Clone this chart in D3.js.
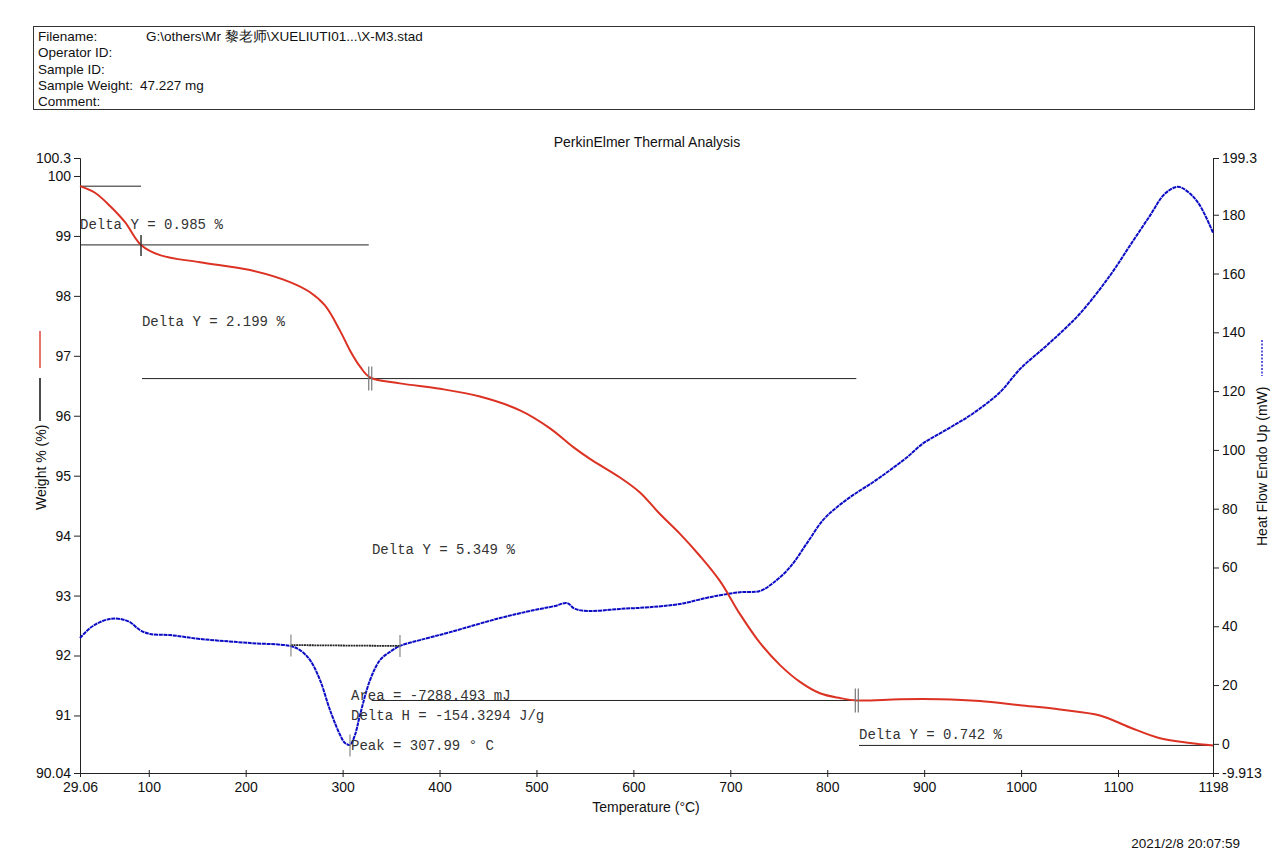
<!DOCTYPE html>
<html>
<head>
<meta charset="utf-8">
<script src="https://cdn.jsdelivr.net/npm/d3@7"></script>
<style>
  body { margin: 0; background: #fff; }
  svg text { font-family: "Liberation Sans", Arial, sans-serif; fill: #111; }
  .note { font-family: "Liberation Mono", "DejaVu Sans Mono", monospace; font-size: 14px; fill: #333; }
</style>
</head>
<body>
<svg id="chart" width="1271" height="851"></svg>
<script>
// header lines
var headerLabels = ['Filename:', 'Operator ID:', 'Sample ID:', 'Sample Weight:', 'Comment:'];
var headerValues = ['G:\\others\\Mr 黎老师\\XUELIUTI01...\\X-M3.stad', '', '', '47.227 mg', ''];

// TGA curve: temperature (°C) / weight %
var tgaTemp = [29.06, 44.5, 60.0, 75.5, 92.0, 111.6, 152.9, 204.5, 245.7, 266.4, 281.8, 297.3, 307.6, 318.0, 328.3,
  359.2, 400.5, 441.7, 483.0, 514.0, 537.7, 555.2, 586.2, 606.8, 627.4, 648.1, 668.7, 689.4, 710.0, 730.6, 751.3,
  771.9, 792.5, 813.2, 830.7, 875.1, 916.3, 957.6, 998.9, 1040.1, 1081.4, 1112.3, 1143.3, 1174.2, 1198];
var tgaWeight = [99.83, 99.72, 99.50, 99.23, 98.85, 98.68, 98.56, 98.43, 98.23, 98.06, 97.84, 97.42, 97.09, 96.82, 96.64,
  96.54, 96.45, 96.32, 96.09, 95.79, 95.48, 95.28, 94.97, 94.72, 94.36, 94.03, 93.66, 93.24, 92.69, 92.21, 91.84,
  91.56, 91.37, 91.29, 91.25, 91.27, 91.27, 91.24, 91.17, 91.10, 91.00, 90.80, 90.62, 90.54, 90.50];

// DSC curve: temperature (°C) / heat flow (mW)
var dscTemp = [29.06, 39.4, 49.7, 60.0, 70.3, 80.6, 91.0, 101.3, 121.9, 152.9, 204.5, 245.7, 256.0, 266.4, 276.7,
  287.0, 297.3, 302.5, 307.6, 312.8, 318.0, 328.3, 338.6, 348.9, 359.2, 379.8, 410.8, 462.4, 493.3, 519.1, 531.5,
  539.8, 555.2, 586.2, 617.1, 648.1, 679.0, 710.0, 730.6, 744.0, 761.6, 779.1, 795.6, 810.0, 826.5, 847.2, 864.7,
  882.3, 898.8, 916.3, 933.9, 950.4, 978.2, 998.9, 1029.8, 1060.8, 1091.7, 1112.3, 1133.0, 1148.5, 1161.9, 1174.2,
  1184.6, 1198];
var dscFlow = [36.0, 39.4, 41.4, 42.5, 42.5, 41.4, 38.7, 37.4, 37.0, 35.7, 34.3, 33.3, 31.9, 28.5, 21.7,
  11.5, 3.1, 0.3, -0.3, 3.1, 9.9, 21.7, 28.5, 31.3, 33.3, 35.3, 38.0, 42.8, 45.2, 46.9, 47.9,
  45.9, 45.2, 45.9, 46.5, 47.6, 49.9, 51.6, 52.0, 54.7, 60.1, 68.3, 76.1, 80.5, 84.6, 89.0, 93.1,
  97.5, 102.2, 105.6, 109.0, 112.4, 119.6, 127.5, 136.5, 146.4, 159.3, 169.5, 179.7, 187.2, 189.5, 187.2,
  183.1, 173.9];

// tick labels
var tempTicks = [29.06, 100, 200, 300, 400, 500, 600, 700, 800, 900, 1000, 1100, 1198];
var weightTicks = [90.04, 91, 92, 93, 94, 95, 96, 97, 98, 99, 100, 100.3];
var flowTicks = [-9.913, 0, 20, 40, 60, 80, 100, 120, 140, 160, 180, 199.3];

// step analysis: [T start, T end, weight level]
var stepLines = [[29.06, 92, 99.83], [29.06, 327, 98.85], [93, 830, 96.62], [330, 830, 91.25], [832.8, 1198, 90.50]];
var stepMarks = [[92, 98.85, 1], [328.5, 96.62, 2], [830.5, 91.25, 2]];
var stepTexts = [['Delta Y = 0.985 %', 29.06, 99.11], ['Delta Y = 2.199 %', 93, 97.49],
  ['Delta Y = 5.349 %', 330.3, 93.69], ['Delta Y = 0.742 %', 832.8, 90.61]];

// peak analysis (heat flow)
var peakBase = [[246.7, 33.6], [359.2, 33.3]];
var peakMarks = [[246.7, 33.5], [359.2, 33.3], [307.6, -0.6]];
var peakTexts = [['Area = -7288.493 mJ', 308.7, 14.9], ['Delta H = -154.3294 J/g', 308.7, 8.2], ['Peak = 307.99 ° C', 308.7, -2.0]];

var svg = d3.select('#chart');

var x = d3.scaleLinear().domain([29.06, 1198]).range([80, 1213]);
var yW = d3.scaleLinear().domain([90.04, 100.3]).range([773, 158]);
var yF = d3.scaleLinear().domain([-9.913, 199.3]).range([773, 158]);

// header box
svg.append('rect').attr('x', 33.5).attr('y', 26.5).attr('width', 1221).attr('height', 83)
  .attr('fill', 'none').attr('stroke', '#333');
headerLabels.forEach(function(d, i) {
  svg.append('text').attr('x', 38).attr('y', 41 + i * 16.3).style('font-size', '13.5px').text(d);
  svg.append('text').attr('x', i == 3 ? 140 : 146).attr('y', 41 + i * 16.3).style('font-size', '13.5px').text(headerValues[i]);
});

svg.append('text').attr('x', 647).attr('y', 147).attr('text-anchor', 'middle')
  .style('font-size', '14px').text('PerkinElmer Thermal Analysis');

// axes
var ax = svg.append('g').attr('transform', 'translate(0,773)')
  .call(d3.axisBottom(x).tickValues(tempTicks).tickFormat(function(d) { return String(d); }).tickSize(4).tickPadding(5));
ax.selectAll('.tick line').attr('y1', -3);
var ayl = svg.append('g').attr('transform', 'translate(80,0)')
  .call(d3.axisLeft(yW).tickValues(weightTicks).tickFormat(function(d) { return String(d); }).tickSize(6).tickPadding(3));
var ayr = svg.append('g').attr('transform', 'translate(1213,0)')
  .call(d3.axisRight(yF).tickValues(flowTicks).tickFormat(function(d) { return String(d); }).tickSize(6).tickPadding(3));
[ax, ayl, ayr].forEach(function(g) {
  g.select('.domain').attr('stroke', '#222');
  g.selectAll('.tick line').attr('stroke', '#222');
  g.selectAll('.tick text').style('font-size', '14px').attr('fill', '#111').style('font-family', '"Liberation Sans", Arial, sans-serif');
});

svg.append('text').attr('x', 646).attr('y', 812).attr('text-anchor', 'middle').style('font-size', '14px').text('Temperature (°C)');
svg.append('text').attr('x', 1240).attr('y', 848).attr('text-anchor', 'end').style('font-size', '13.5px').text('2021/2/8 20:07:59');

// left axis title with legend strokes
svg.append('line').attr('x1', 40).attr('x2', 40).attr('y1', 331).attr('y2', 368).attr('stroke', '#d9483b').attr('stroke-width', 1.5);
svg.append('line').attr('x1', 40).attr('x2', 40).attr('y1', 378).attr('y2', 421).attr('stroke', '#111').attr('stroke-width', 1.5);
svg.append('text').attr('transform', 'translate(46,510) rotate(-90)').style('font-size', '14px').text('Weight % (%)');

// right axis title with legend stroke
svg.append('text').attr('transform', 'translate(1267,546) rotate(-90)').style('font-size', '14px').text('Heat Flow Endo Up (mW)');
svg.append('line').attr('x1', 1262).attr('x2', 1262).attr('y1', 340).attr('y2', 376)
  .attr('stroke', '#2a2ad8').attr('stroke-width', 1.5).attr('stroke-dasharray', '2,1.5');

// step lines
svg.selectAll('.step').data(stepLines).enter().append('line')
  .attr('x1', function(d) { return x(d[0]); }).attr('x2', function(d) { return x(d[1]); })
  .attr('y1', function(d) { return yW(d[2]); }).attr('y2', function(d) { return yW(d[2]); })
  .attr('stroke', '#222').attr('stroke-width', 1);

// curves
var tga = tgaTemp.map(function(t, i) { return [t, tgaWeight[i]]; });
var dsc = dscTemp.map(function(t, i) { return [t, dscFlow[i]]; });

svg.append('path').datum(dsc)
  .attr('d', d3.line().x(function(d) { return x(d[0]); }).y(function(d) { return yF(d[1]); }).curve(d3.curveCatmullRom.alpha(0.5)))
  .attr('fill', 'none').attr('stroke', '#0c0cc4').attr('stroke-width', 2).attr('stroke-dasharray', '4,0.7');

svg.append('path').datum(tga)
  .attr('d', d3.line().x(function(d) { return x(d[0]); }).y(function(d) { return yW(d[1]); }).curve(d3.curveCatmullRom.alpha(0.5)))
  .attr('fill', 'none').attr('stroke', '#dc3223').attr('stroke-width', 2);

// step markers
stepMarks.forEach(function(d) {
  var cx = x(d[0]), cy = yW(d[1]);
  if (d[2] == 1) {
    svg.append('line').attr('x1', cx).attr('x2', cx).attr('y1', cy - 10).attr('y2', cy + 11).attr('stroke', '#333').attr('stroke-width', 1.5);
  } else {
    [-1.5, 1.5].forEach(function(o) {
      svg.append('line').attr('x1', cx + o).attr('x2', cx + o).attr('y1', cy - 12).attr('y2', cy + 12).attr('stroke', '#777').attr('stroke-width', 1.2);
    });
  }
});

// peak baseline and markers
svg.append('line').attr('x1', x(peakBase[0][0])).attr('y1', yF(peakBase[0][1]))
  .attr('x2', x(peakBase[1][0])).attr('y2', yF(peakBase[1][1]))
  .attr('stroke', '#222').attr('stroke-width', 1.8).attr('stroke-dasharray', '2,0.6');
peakMarks.forEach(function(d) {
  svg.append('line').attr('x1', x(d[0])).attr('x2', x(d[0])).attr('y1', yF(d[1]) - 11).attr('y2', yF(d[1]) + 11)
    .attr('stroke', '#888').attr('stroke-width', 1.2);
});

// notes
svg.selectAll('.stepText').data(stepTexts).enter().append('text').attr('class', 'note')
  .attr('x', function(d) { return x(d[1]); }).attr('y', function(d) { return yW(d[2]); }).text(function(d) { return d[0]; });
svg.selectAll('.peakText').data(peakTexts).enter().append('text').attr('class', 'note')
  .attr('x', function(d) { return x(d[1]); }).attr('y', function(d) { return yF(d[2]); }).text(function(d) { return d[0]; });
</script>
</body>
</html>
